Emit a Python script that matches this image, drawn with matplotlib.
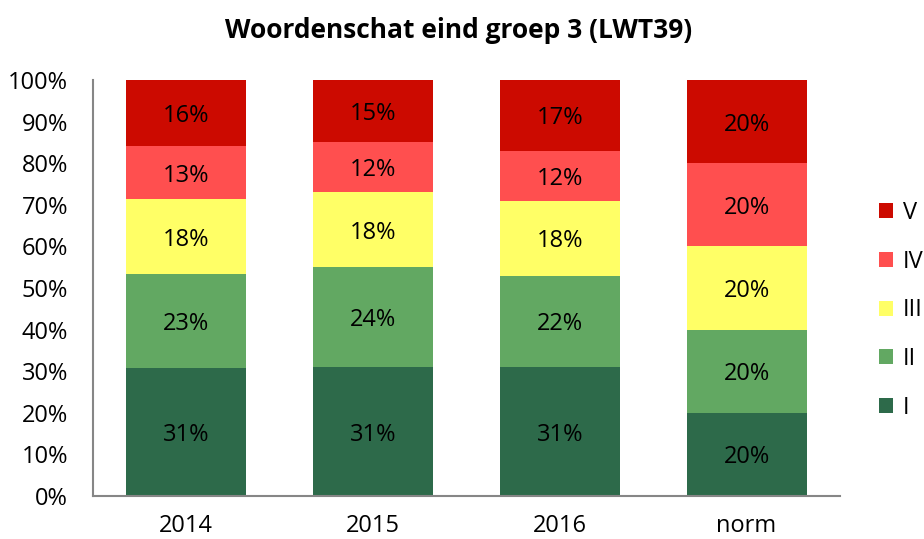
import matplotlib
matplotlib.use("Agg")
import matplotlib.pyplot as plt
from matplotlib.patches import Patch
import numpy as np

# --- data --------------------------------------------------------------------
categories = ["2014", "2015", "2016", "norm"]
levels = ["I", "II", "III", "IV", "V"]
level_I = [31, 31, 31, 20]
level_II = [23, 24, 22, 20]
level_III = [18, 18, 18, 20]
level_IV = [13, 12, 12, 20]
level_V = [16, 15, 17, 20]
colors = ["#2d6a4a", "#62a862", "#ffff66", "#ff4f4f", "#cc0a00"]

plt.rcParams["font.family"] = ["Open Sans", "DejaVu Sans"]

series = np.array([level_I, level_II, level_III, level_IV, level_V], dtype=float)
shares = series / series.sum(axis=0)  # 100% stacked

fig = plt.figure(figsize=(9.24, 5.39), dpi=100)
ax = fig.add_axes([0.1006, 0.0798, 0.8084, 0.7718])

x = np.arange(len(categories))
bottom = np.zeros(len(categories))
for i, lvl in enumerate(levels):
    ax.bar(x, shares[i], width=0.643, bottom=bottom, color=colors[i],
           edgecolor="none", label=lvl)
    for xi, b, h, v in zip(x, bottom, shares[i], series[i]):
        ax.text(xi, b + h / 2, f"{int(v)}%", ha="center", va="center_baseline",
                fontsize=17, color="black")
    bottom += shares[i]

ax.set_xlim(-0.5, len(categories) - 0.5)
ax.set_ylim(0, 1)
ax.set_yticks(np.linspace(0, 1, 11))
ax.set_yticklabels([f"{int(round(t * 100))}%" for t in np.linspace(0, 1, 11)])
ax.set_xticks(x)
ax.set_xticklabels(categories)
ax.tick_params(axis="both", length=0, labelsize=17, colors="black")
ax.tick_params(axis="y", pad=18)
ax.tick_params(axis="x", pad=13)
for side in ("top", "right"):
    ax.spines[side].set_visible(False)
for side in ("left", "bottom"):
    ax.spines[side].set_color("#868686")
    ax.spines[side].set_linewidth(1.5)

fig.text(0.496, 0.944, "Woordenschat eind groep 3 (LWT39)", ha="center",
         va="center", fontsize=19, fontweight="bold")

handles = [Patch(facecolor=colors[i], edgecolor="none", label=levels[i])
           for i in reversed(range(len(levels)))]
fig.legend(handles=handles, loc="upper left", bbox_to_anchor=(0.941, 0.645),
           frameon=False, fontsize=17, handlelength=0.6, handleheight=0.6,
           handletextpad=0.4, labelspacing=1.05, borderaxespad=0)

fig.savefig("out.png", dpi=100)
